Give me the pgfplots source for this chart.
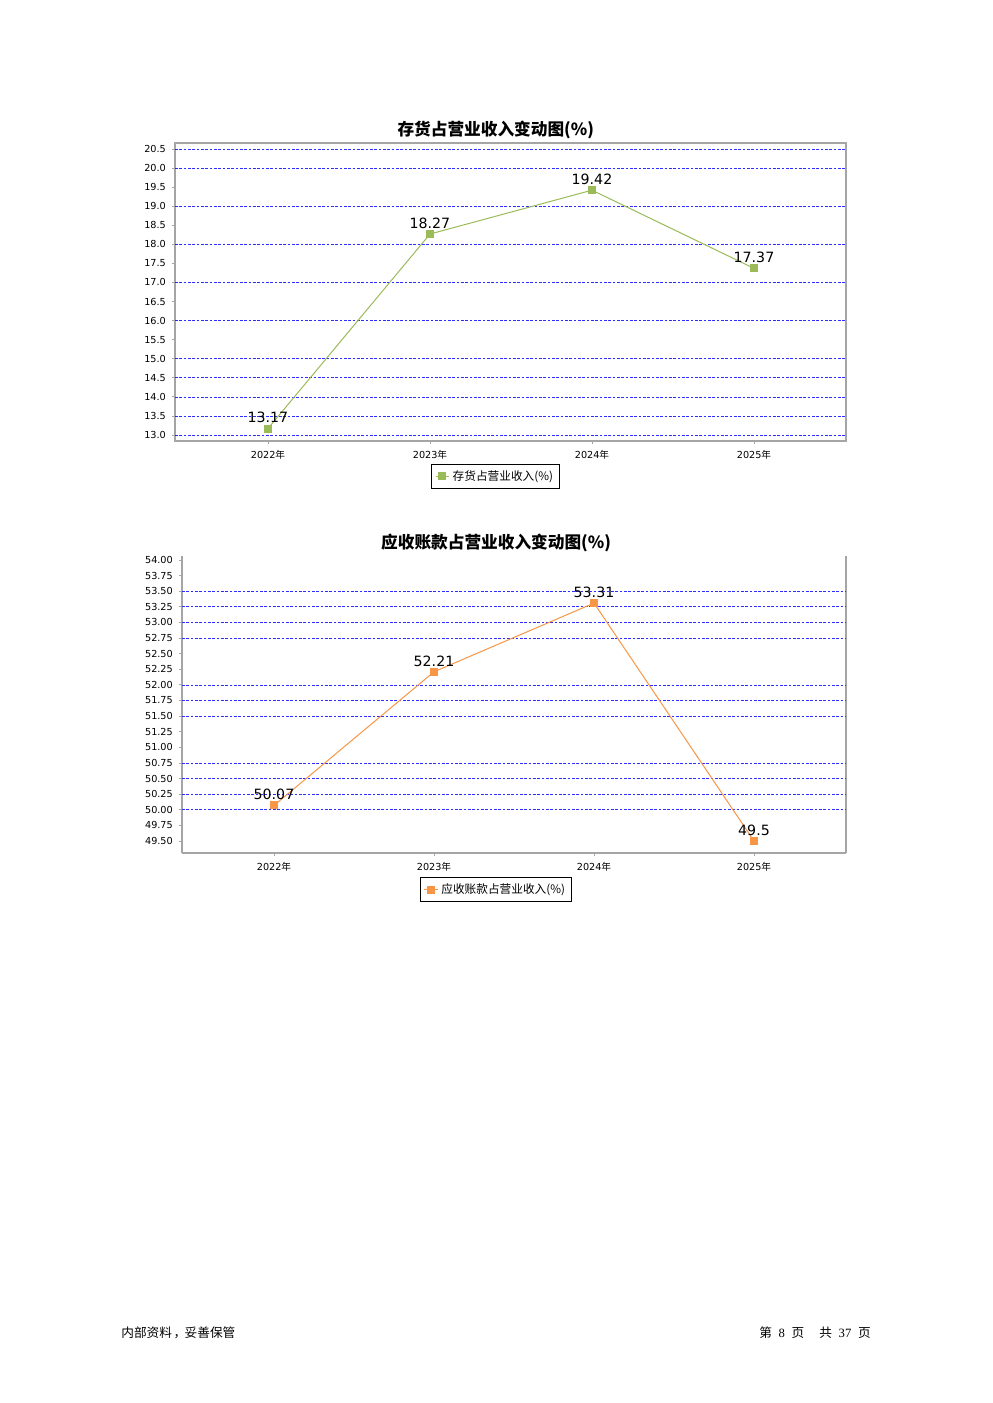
\documentclass[border=0pt]{standalone}
\usepackage{pgfplots}
\pgfplotsset{compat=1.18}
\usepackage{fontspec}
\setmainfont{DejaVu Sans}
\newfontfamily\cjk{Noto Sans CJK SC}
\newfontfamily\serifnum{Liberation Serif}
\definecolor{grn}{RGB}{155,187,89}
\definecolor{org}{RGB}{247,150,70}
\definecolor{grd}{RGB}{45,45,255}
\definecolor{frm}{RGB}{165,165,165}
\def\u{0.6pt}
\pgfplotsset{
	pagechart/.style={
		scale only axis,
		xtick={0,1,2,3},
		xticklabels={2022{\cjk 年},2023{\cjk 年},2024{\cjk 年},2025{\cjk 年}},
		tick align=outside, tick pos=left, major tick length=2pt,
		every tick/.style={frm, line width=0.5pt},
		axis line style={frm, line width=0.7pt},
		tick label style={font=\fontsize{5.8}{7}\selectfont},
		/pgf/number format/assume math mode=true,
		extra y tick labels={},
		extra y tick style={grid=major},
		major grid style={grd, dash pattern=on 1.6pt off 1pt, line width=0.45pt},
		nodes near coords,
		point meta=explicit symbolic,
		every node near coord/.append style={font=\fontsize{8.5}{10}\selectfont, anchor=base, yshift=3.4pt, inner sep=0pt, text=black},
		title style={font=\cjk\bfseries\fontsize{10}{12}\selectfont, anchor=south, inner sep=0pt, yshift=-3.8pt},
		legend style={draw=black, line width=0.6pt, anchor=north, inner xsep=2pt, inner ysep=1.5pt,
			font=\cjk\fontsize{7}{8}\selectfont, cells={anchor=west}},
		legend image code/.code={\draw[mark repeat=2, mark phase=2, #1] plot coordinates {(0cm,0cm) (0.14cm,0cm) (0.28cm,0cm)};},
		clip=false,
	}
}
\begin{document}
\begin{tikzpicture}
\useasboundingbox (0,0) rectangle ({992*\u},{-1403*\u});

% chart 1
\begin{axis}[pagechart,
	at={({175*\u},{-441*\u})}, anchor=south west,
	width={671*\u}, height={298*\u},
	xmin=-0.574, xmax=3.568, ymin=12.843, ymax=20.657,
	ytick={13,13.5,14,14.5,15,15.5,16,16.5,17,17.5,18,18.5,19,19.5,20,20.5},
	yticklabel style={/pgf/number format/.cd, fixed, fixed zerofill, precision=1},
	extra y ticks={13,13.5,14,14.5,15,16,17,18,19,20,20.5},
	title={存货占营业收入变动图(\%)},
	title style={at={(0.478,1)}},
	legend style={at={(0.478,-0.077)}},
]
\addplot[grn, line width=0.6pt, mark=square*, mark size=2.1pt, mark options={solid, fill=grn, draw=grn}]
	coordinates {(0,13.17) [13.17] (1,18.27) [18.27] (2,19.42) [19.42] (3,17.37) [17.37]};
\addlegendentry{存货占营业收入(\%)}
\end{axis}

% chart 2
\begin{axis}[pagechart,
	at={({182*\u},{-853*\u})}, anchor=south west,
	width={664*\u}, height={297*\u},
	axis x line*=bottom,
	xmin=-0.575, xmax=3.575, ymin=49.308, ymax=54.064,
	ytick={49.5,49.75,50,50.25,50.5,50.75,51,51.25,51.5,51.75,52,52.25,52.5,52.75,53,53.25,53.5,53.75,54},
	yticklabel style={/pgf/number format/.cd, fixed, fixed zerofill, precision=2},
	extra y ticks={50,50.25,50.5,50.75,51.5,51.75,52,52.75,53,53.25,53.5},
	title={应收账款占营业收入变动图(\%)},
	title style={at={(0.473,1)}},
	legend style={at={(0.473,-0.081)}},
]
\addplot[org, line width=0.6pt, mark=square*, mark size=2.1pt, mark options={solid, fill=org, draw=org}]
	coordinates {(0,50.07) [50.07] (1,52.21) [52.21] (2,53.31) [53.31] (3,49.5) [49.5]};
\addlegendentry{应收账款占营业收入(\%)}
\end{axis}

% footer
\node[anchor=west, inner sep=0pt, font=\cjk\fontsize{7.6}{9}\selectfont] at ({121*\u},{-1333*\u}) {内部资料\hspace{1pt}，\hspace{-1pt}妥善保管};
\node[anchor=east, inner sep=0pt, font=\cjk\fontsize{7.6}{9}\selectfont] at ({871*\u},{-1333*\u})
	{第\hspace{4pt}{\serifnum 8}\hspace{4pt}页\hspace{9pt}共\hspace{4pt}{\serifnum 37}\hspace{4pt}页};
\end{tikzpicture}
\end{document}
